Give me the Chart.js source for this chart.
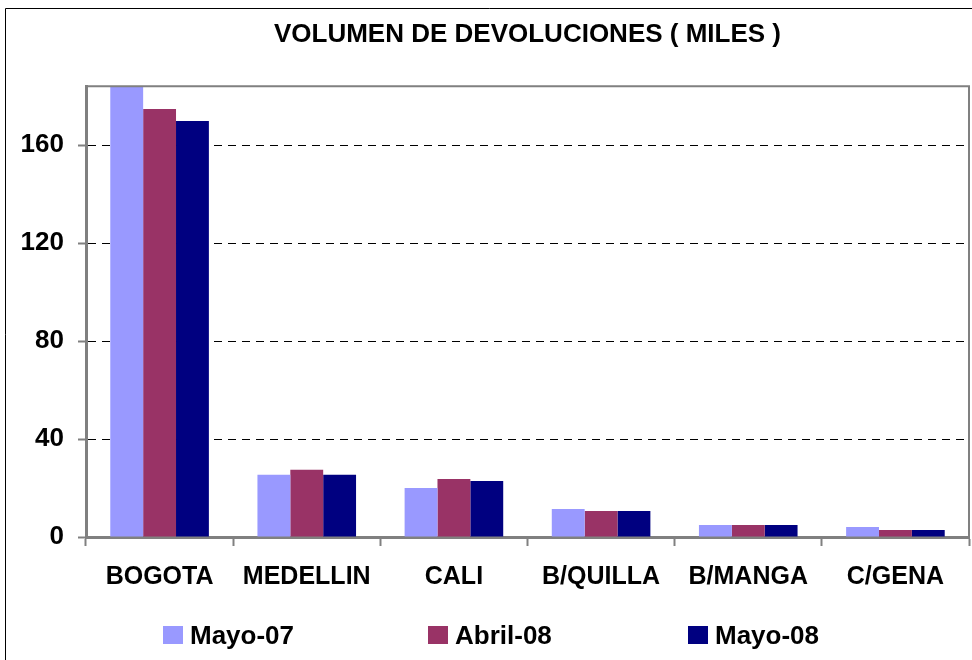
<!DOCTYPE html>
<html>
<head>
<meta charset="utf-8">
<script src="https://cdn.jsdelivr.net/npm/chart.js@4.4.0/dist/chart.umd.min.js"></script>
<style>
  html, body { margin: 0; padding: 0; background: #fff; }
  #wrap { position: relative; width: 972px; height: 660px; overflow: hidden; }
  #legend { position: absolute; left: 0; top: 618px; width: 972px; height: 34px;
            font: bold 26px "Liberation Sans", Arial, sans-serif; color: #000; }
  .item { position: absolute; top: 0; height: 34px; display: flex; align-items: center; }
  .box { width: 20px; height: 18px; margin-right: 7px; }
</style>
</head>
<body>
<div id="wrap">
  <canvas id="chart" width="972" height="660"></canvas>
  <div id="legend"></div>
</div>
<script>
// data
const cities = ['BOGOTA', 'MEDELLIN', 'CALI', 'B/QUILLA', 'B/MANGA', 'C/GENA'];
const seriesNames = ['Mayo-07', 'Abril-08', 'Mayo-08'];
const mayo07 = [186, 25.4, 20.0, 11.4, 4.9, 4.1];
const abril08 = [174.7, 27.4, 23.7, 10.6, 4.9, 2.9];
const mayo08 = [169.8, 25.4, 22.9, 10.6, 4.9, 2.9];
const yTicks = [0, 40, 80, 120, 160];
const colors = ['#9999FF', '#993366', '#000080'];

// outer frame + plot area border, like the Excel export
const framePlugin = {
  id: 'frame',
  beforeDraw(chart) {
    const ctx = chart.ctx;
    ctx.save();
    ctx.strokeStyle = '#000';
    ctx.lineWidth = 1;
    ctx.beginPath();
    ctx.moveTo(5.5, 700);
    ctx.lineTo(5.5, 8.5);
    ctx.lineTo(1000, 8.5);
    ctx.stroke();
    ctx.restore();
  },
  afterDraw(chart) {
    const a = chart.chartArea;
    const ctx = chart.ctx;
    ctx.save();
    ctx.strokeStyle = '#808080';
    ctx.lineWidth = 2;
    ctx.beginPath();
    ctx.moveTo(a.left, a.top);
    ctx.lineTo(a.right, a.top);
    ctx.lineTo(a.right, a.bottom);
    ctx.stroke();
    ctx.restore();
  }
};

const chart = new Chart(document.getElementById('chart'), {
  type: 'bar',
  data: {
    labels: cities,
    datasets: [
      { label: seriesNames[0], data: mayo07, backgroundColor: colors[0] },
      { label: seriesNames[1], data: abril08, backgroundColor: colors[1] },
      { label: seriesNames[2], data: mayo08, backgroundColor: colors[2] }
    ]
  },
  options: {
    responsive: false,
    animation: false,
    layout: { padding: { left: 20, right: 3, top: 0, bottom: 52 } },
    datasets: {
      bar: { categoryPercentage: 0.67, barPercentage: 1.0 }
    },
    plugins: {
      title: {
        display: true,
        text: 'VOLUMEN DE DEVOLUCIONES ( MILES )',
        fullSize: false,
        color: '#000',
        font: { family: 'Liberation Sans', size: 26, weight: 'bold' },
        padding: { top: 19, bottom: 36 }
      },
      legend: { display: false },
      tooltip: { enabled: false }
    },
    scales: {
      x: {
        grid: {
          offset: true,
          drawOnChartArea: false,
          tickLength: 9,
          tickColor: '#808080',
          tickWidth: 2
        },
        border: { color: '#808080', width: 3 },
        ticks: {
          color: '#000',
          padding: 16,
          font: { family: 'Liberation Sans', size: 25, weight: 'bold' }
        }
      },
      y: {
        min: 0,
        max: 184,
        afterBuildTicks(axis) {
          axis.ticks = yTicks.map(v => ({ value: v }));
        },
        afterFit(axis) { axis.width = 66; },
        grid: {
          color: ctx => (ctx.tick && ctx.tick.value === 0) ? 'rgba(0,0,0,0)' : '#000',
          lineWidth: 1,
          tickLength: 8,
          tickColor: '#808080',
          tickWidth: 2,
          tickBorderDash: []
        },
        border: { color: '#808080', width: 3, dash: [8, 6] },
        ticks: {
          color: '#000',
          padding: 14,
          font: { family: 'Liberation Sans', size: 26, weight: 'bold' }
        }
      }
    }
  },
  plugins: [framePlugin]
});

// legend laid out like the original, spread across the bottom
const legendX = [163, 428, 688];
const legend = document.getElementById('legend');
chart.data.datasets.forEach((ds, i) => {
  const item = document.createElement('div');
  item.className = 'item';
  item.style.left = legendX[i] + 'px';
  item.innerHTML = `<span class="box" style="background:${ds.backgroundColor}"></span><span>${ds.label}</span>`;
  legend.appendChild(item);
});
</script>
</body>
</html>
